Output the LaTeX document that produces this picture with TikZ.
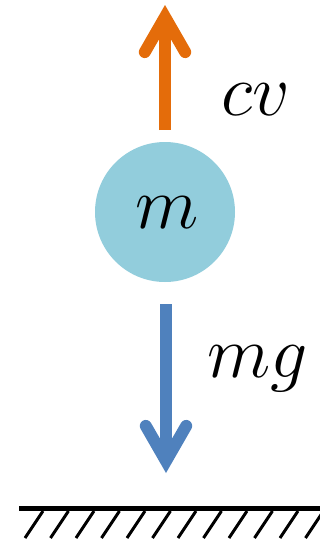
\RequirePackage{fix-cm}
\documentclass[tikz,border=0pt]{standalone}
\usepackage{amsmath}
\usepackage{tikz}
\usetikzlibrary{arrows.meta,calc,positioning}
\definecolor{DragOrange}{RGB}{228,108,10}
\definecolor{WeightBlue}{RGB}{79,129,189}
\definecolor{BallBlue}{RGB}{146,205,220}

\tikzset{
  force/.style={line width=6.8pt, -{Straight Barb[line cap=round, line join=miter, length=20pt, width=23pt]}},
  label/.style={font=\fontsize{42}{48}\selectfont, inner sep=0pt, anchor=base west},
}

\begin{document}
\begin{tikzpicture}[x=0.02cm, y=-0.02cm]
    \useasboundingbox (0,0) rectangle (320,542);
    % Ball carrying the mass
    \node[circle, fill=BallBlue, minimum size=140*0.02cm, inner sep=0pt] (ball) at (165,212) {};
    \node[font=\fontsize{42}{48}\selectfont, inner sep=0pt, anchor=base] (mass) at (167,228) {$m$};
    % Drag force pointing up
    \coordinate (dragtail) at (165,130);
    \coordinate (draghead) at (165,5);
    \draw[force, DragOrange] (dragtail) -- (draghead);
    \node[label] (drag) at (221,115) {$cv$};
    % Weight pointing down
    \coordinate (weighttail) at (166,304);
    \coordinate (weighthead) at (166,473);
    \draw[force, WeightBlue] (weighttail) -- (weighthead);
    \node[label] (weight) at (207,377) {$mg$};
    % Ground with hatching
    \coordinate (groundleft) at (19,508.5);
    \coordinate (groundright) at (320,508.5);
    \draw[line width=2.8pt] (groundleft) -- (groundright);
    \foreach \i in {0,...,11}
        \draw[line width=1.7pt] ($(25+25.5*\i,538)$) -- ++(18,-27);
\end{tikzpicture}
\end{document}
